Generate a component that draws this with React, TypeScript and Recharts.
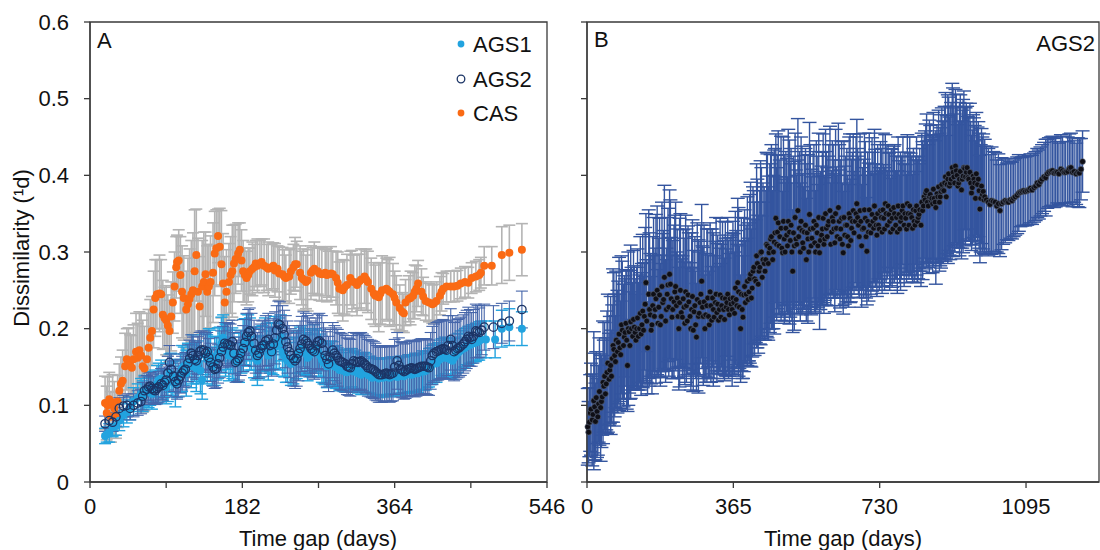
import React from 'react';
import { ScatterChart, Scatter, XAxis, YAxis, ErrorBar, ReferenceArea } from 'recharts';

type Pt = [number, number, number]; // [day, dissimilarity, error]

const panelAXTicks = [0, 91, 182, 273, 364, 455, 546];
const panelAXLabels = [0, 182, 364, 546];
const panelBXTicks = [0, 365, 730, 1095];
const yTicks = [0, 0.1, 0.2, 0.3, 0.4, 0.5, 0.6];
const seriesNames = ['AGS1', 'AGS2', 'CAS'];

const casData: Pt[] = [
  [18,0.103,0.035],[20,0.09,0.035],[21,0.1,0.037],[23,0.108,0.035],[25,0.085,0.033],[27,0.104,0.036],[29,0.096,0.035],[31,0.087,0.03],[33,0.105,0.034],[35,0.119,0.035],[37,0.128,0.035],[39,0.132,0.04],[42,0.151,0.043],[44,0.16,0.04],[46,0.156,0.045],[48,0.152,0.04],[50,0.149,0.042],[52,0.16,0.045],[55,0.17,0.05],[57,0.162,0.045],[59,0.172,0.05],[61,0.165,0.055],[63,0.151,0.06],[65,0.148,0.055],[68,0.16,0.06],[70,0.175,0.05],[72,0.188,0.05],[74,0.197,0.045],[76,0.225,0.05],[78,0.24,0.05],[80,0.245,0.045],[83,0.246,0.05],[85,0.245,0.045],[87,0.218,0.045],[89,0.214,0.04],[91,0.211,0.045],[93,0.204,0.04],[95,0.197,0.04],[97,0.216,0.045],[99,0.234,0.04],[101,0.255,0.045],[103,0.28,0.04],[104,0.287,0.035],[106,0.289,0.04],[108,0.27,0.05],[110,0.248,0.06],[112,0.24,0.055],[115,0.225,0.05],[117,0.232,0.06],[119,0.239,0.065],[121,0.245,0.07],[123,0.25,0.075],[125,0.275,0.08],[127,0.296,0.06],[129,0.248,0.07],[131,0.229,0.065],[134,0.255,0.06],[136,0.261,0.065],[138,0.271,0.055],[140,0.248,0.06],[142,0.255,0.055],[144,0.261,0.06],[147,0.273,0.065],[149,0.298,0.055],[151,0.305,0.05],[153,0.321,0.035],[155,0.307,0.05],[157,0.284,0.07],[159,0.259,0.065],[161,0.234,0.06],[163,0.248,0.055],[166,0.261,0.05],[168,0.27,0.05],[170,0.275,0.06],[172,0.285,0.05],[174,0.291,0.045],[177,0.298,0.04],[179,0.303,0.035],[181,0.289,0.04],
  [183,0.275,0.04],[185,0.27,0.035],[187,0.266,0.035],[189,0.27,0.035],[191,0.275,0.03],[194,0.278,0.035],[196,0.28,0.03],[198,0.285,0.03],[200,0.282,0.035],[203,0.285,0.03],[205,0.287,0.03],[208,0.282,0.035],[211,0.28,0.03],[213,0.278,0.035],[217,0.28,0.03],[219,0.282,0.03],[221,0.276,0.035],[224,0.278,0.03],[226,0.272,0.035],[230,0.271,0.035],[232,0.268,0.035],[234,0.266,0.03],[238,0.268,0.035],[240,0.275,0.03],[243,0.28,0.03],[245,0.284,0.035],[247,0.284,0.03],[251,0.273,0.035],[253,0.266,0.035],[255,0.264,0.04],[258,0.261,0.035],[260,0.263,0.04],[264,0.273,0.035],[266,0.276,0.03],[268,0.278,0.035],[272,0.275,0.03],[274,0.272,0.035],[277,0.271,0.035],[281,0.273,0.03],[283,0.27,0.035],[285,0.271,0.03],[288,0.272,0.035],[290,0.271,0.03],[294,0.266,0.035],[296,0.26,0.04],[298,0.252,0.035],[302,0.25,0.04],[304,0.254,0.035],[307,0.257,0.04],[311,0.266,0.035],[313,0.262,0.04],[315,0.261,0.035],[319,0.257,0.04],[322,0.262,0.035],[324,0.264,0.04],[328,0.268,0.035],[330,0.264,0.04],[332,0.261,0.04],[336,0.252,0.04],[339,0.246,0.04],[341,0.243,0.04],[345,0.241,0.045],[347,0.246,0.04],[349,0.25,0.045],[354,0.252,0.04],[356,0.25,0.04],[358,0.248,0.045],[362,0.245,0.04],[364,0.24,0.035],[366,0.234,0.035],[370,0.227,0.03],[373,0.222,0.025],[375,0.22,0.025],[377,0.234,0.03],[381,0.239,0.03],[383,0.24,0.035],[386,0.243,0.03],[388,0.248,0.035],[390,0.252,0.03],[392,0.259,0.03],[396,0.248,0.03],[398,0.242,0.025],[401,0.236,0.025],[405,0.234,0.025],[409,0.232,0.025],[411,0.233,0.025],[414,0.236,0.025],[418,0.243,0.025],[420,0.248,0.025],[422,0.252,0.02],[426,0.255,0.02],[431,0.255,0.02],[435,0.255,0.02],[439,0.256,0.02],[443,0.259,0.02],[448,0.261,0.02],[452,0.26,0.02],[456,0.266,0.02],[461,0.268,0.02],[465,0.27,0.02],[467,0.273,0.02],[471,0.282,0.025],[480,0.282,0.025],[492,0.296,0.037],[501,0.299,0.036],[516,0.303,0.034]
];

const ags1Data: Pt[] = [
  [18,0.06,0.01],[20,0.062,0.01],[23,0.064,0.012],[27,0.071,0.012],[31,0.073,0.012],[35,0.08,0.013],[40,0.087,0.015],[44,0.092,0.015],[48,0.096,0.015],[52,0.105,0.018],[57,0.11,0.018],[61,0.115,0.02],[65,0.119,0.02],[70,0.117,0.02],[74,0.115,0.02],[78,0.124,0.022],[82,0.133,0.022],[87,0.128,0.02],[91,0.124,0.022],[95,0.142,0.025],[99,0.135,0.022],[104,0.135,0.025],[108,0.142,0.025],[112,0.151,0.025],[117,0.156,0.025],[121,0.151,0.028],[125,0.156,0.025],[129,0.156,0.028],[134,0.133,0.025],[138,0.165,0.028],[142,0.17,0.03],[146,0.151,0.025],[151,0.161,0.028],[155,0.172,0.03],[159,0.188,0.03],[164,0.177,0.03],[168,0.17,0.028],[172,0.161,0.028],[176,0.156,0.025],[181,0.17,0.028],[185,0.183,0.03],[189,0.188,0.03],[193,0.174,0.028],[198,0.161,0.028],[202,0.163,0.028],[206,0.174,0.03],[211,0.177,0.03],[215,0.172,0.03],[219,0.17,0.03],[223,0.177,0.03],[228,0.188,0.03],[232,0.165,0.028],[236,0.158,0.028],[240,0.154,0.028],[245,0.161,0.028],[249,0.17,0.028],[253,0.174,0.03],[258,0.167,0.028],[262,0.165,0.028],[266,0.17,0.028],[270,0.172,0.028],[275,0.165,0.028],[279,0.156,0.028],[283,0.151,0.028],[288,0.158,0.026],[292,0.151,0.026],[296,0.149,0.026],[300,0.147,0.026],[305,0.144,0.025],[309,0.147,0.025],[313,0.149,0.025],[317,0.147,0.025],[322,0.144,0.025],[326,0.142,0.025],[330,0.142,0.025],[335,0.14,0.024],[339,0.138,0.024],[343,0.138,0.024],[347,0.137,0.024],[352,0.138,0.024],[356,0.138,0.024],[360,0.139,0.024],[364,0.139,0.024],[369,0.138,0.024],[373,0.14,0.024],[377,0.14,0.024],[382,0.142,0.024],[386,0.141,0.024],[390,0.142,0.024],[394,0.144,0.024],[399,0.144,0.024],[403,0.147,0.024],[407,0.151,0.024],[411,0.156,0.024],[416,0.158,0.024],[420,0.163,0.024],[424,0.165,0.024],[428,0.161,0.024],[433,0.158,0.024],[437,0.165,0.024],[441,0.17,0.024],[446,0.174,0.024],[450,0.177,0.024],[454,0.179,0.024],[458,0.181,0.024],[463,0.183,0.024],[467,0.186,0.024],[473,0.186,0.024],[484,0.186,0.024],[492,0.2,0.024],[501,0.202,0.024],[516,0.2,0.022]
];

const ags1ExtraData: Pt[] = [
  [63,0.112,0.02],[72,0.122,0.022],[80,0.128,0.024],[85,0.135,0.024],[93,0.13,0.025],[97,0.14,0.028],[102,0.128,0.03],[110,0.148,0.03],[115,0.142,0.03],[123,0.16,0.032],[127,0.148,0.03],[132,0.145,0.03],[140,0.16,0.032],[144,0.165,0.033],[149,0.158,0.032],[153,0.168,0.033],[157,0.18,0.035],[162,0.172,0.034],[166,0.165,0.033],[170,0.168,0.033],[178,0.162,0.032],[183,0.178,0.034],[187,0.185,0.034],[191,0.18,0.034],[196,0.168,0.032],[200,0.158,0.032],[204,0.17,0.033],[209,0.18,0.034],[213,0.165,0.032],[217,0.175,0.033],[221,0.182,0.034],[226,0.18,0.034],[230,0.17,0.032],[234,0.162,0.032],[243,0.158,0.03],[247,0.165,0.03],[251,0.172,0.03],[256,0.17,0.03],[260,0.162,0.03],[264,0.168,0.03],[268,0.175,0.03],[273,0.168,0.03],[277,0.16,0.03],[281,0.155,0.028],[286,0.153,0.028],[290,0.155,0.028],[294,0.15,0.028],[298,0.146,0.027],[303,0.145,0.027],[307,0.143,0.026],[311,0.148,0.026],[315,0.144,0.026],[320,0.142,0.026],[324,0.14,0.026],[328,0.143,0.026],[333,0.139,0.025],[337,0.136,0.025],[341,0.137,0.025],[345,0.135,0.025],[350,0.136,0.025],[354,0.137,0.025],[358,0.136,0.025],[362,0.138,0.025],[367,0.137,0.025],[371,0.139,0.025],[375,0.138,0.025],[380,0.141,0.025],[384,0.14,0.025],[388,0.143,0.025],[392,0.142,0.025],[397,0.146,0.025],[401,0.145,0.025],[405,0.149,0.025],[409,0.153,0.025],[414,0.155,0.025],[418,0.16,0.025],[422,0.162,0.025],[426,0.163,0.025],[431,0.16,0.025],[435,0.162,0.025],[439,0.168,0.025],[443,0.172,0.025],[448,0.175,0.025],[452,0.178,0.025],[456,0.18,0.025],[461,0.182,0.025],[465,0.184,0.025]
];

const ags2Data: Pt[] = [
  [18,0.076,0.01],[23,0.08,0.01],[27,0.078,0.012],[31,0.085,0.012],[35,0.096,0.014],[40,0.099,0.014],[44,0.1,0.015],[48,0.096,0.015],[52,0.1,0.015],[57,0.103,0.016],[61,0.105,0.016],[65,0.119,0.018],[70,0.124,0.018],[74,0.122,0.018],[78,0.119,0.018],[82,0.124,0.02],[87,0.126,0.02],[91,0.133,0.02],[95,0.156,0.022],[97,0.147,0.02],[102,0.131,0.02],[106,0.133,0.022],[110,0.142,0.022],[114,0.147,0.022],[119,0.161,0.024],[123,0.165,0.024],[127,0.158,0.024],[131,0.17,0.025],[136,0.172,0.025],[140,0.17,0.025],[144,0.156,0.025],[149,0.147,0.025],[153,0.154,0.025],[157,0.17,0.027],[161,0.181,0.027],[166,0.179,0.028],[170,0.183,0.028],[174,0.156,0.026],[178,0.161,0.028],[183,0.174,0.03],[187,0.19,0.03],[191,0.197,0.03],[196,0.181,0.03],[200,0.165,0.03],[204,0.174,0.032],[208,0.179,0.032],[213,0.186,0.034],[217,0.17,0.032],[221,0.188,0.034],[225,0.206,0.03],[230,0.2,0.03],[234,0.183,0.034],[238,0.17,0.034],[243,0.161,0.036],[247,0.161,0.036],[251,0.174,0.036],[255,0.186,0.036],[260,0.181,0.036],[264,0.174,0.036],[268,0.17,0.036],[272,0.183,0.036],[277,0.181,0.036],[281,0.165,0.036],[285,0.154,0.036],[290,0.172,0.036],[294,0.165,0.036],[298,0.158,0.037],[302,0.156,0.037],[307,0.151,0.037],[311,0.149,0.037],[315,0.158,0.037],[320,0.156,0.037],[324,0.158,0.037],[328,0.154,0.037],[332,0.149,0.037],[337,0.147,0.037],[341,0.144,0.037],[345,0.14,0.036],[349,0.14,0.036],[354,0.142,0.036],[358,0.14,0.036],[362,0.142,0.036],[367,0.158,0.037],[371,0.147,0.036],[375,0.144,0.036],[379,0.147,0.036],[384,0.149,0.036],[388,0.147,0.036],[392,0.149,0.036],[396,0.151,0.036],[401,0.151,0.036],[405,0.149,0.036],[409,0.165,0.038],[414,0.17,0.038],[418,0.172,0.038],[422,0.174,0.038],[426,0.172,0.038],[431,0.186,0.04],[435,0.17,0.038],[439,0.174,0.038],[443,0.177,0.038],[448,0.183,0.038],[452,0.19,0.038],[456,0.186,0.035],[461,0.197,0.035],[465,0.195,0.032],[471,0.202,0.03],[482,0.202,0.028],[492,0.207,0.026],[501,0.21,0.026],[516,0.225,0.024]
];

const ags2ExtraData: Pt[] = [
  [63,0.112,0.018],[68,0.121,0.018],[72,0.125,0.018],[76,0.12,0.018],[80,0.122,0.02],[85,0.128,0.02],[89,0.13,0.02],[93,0.142,0.022],[100,0.138,0.02],[104,0.128,0.02],[108,0.138,0.022],[112,0.145,0.022],[117,0.155,0.024],[121,0.168,0.024],[125,0.16,0.024],[129,0.165,0.025],[133,0.172,0.025],[138,0.168,0.025],[142,0.162,0.025],[147,0.15,0.025],[151,0.148,0.025],[155,0.162,0.026],[159,0.176,0.027],[164,0.18,0.028],[168,0.178,0.028],[172,0.168,0.027],[176,0.158,0.027],[180,0.168,0.029],[185,0.182,0.03],[189,0.195,0.03],[193,0.19,0.03],[198,0.172,0.03],[202,0.168,0.031],[206,0.178,0.032],[210,0.184,0.033],[215,0.178,0.033],[219,0.18,0.033],[223,0.198,0.032],[227,0.205,0.03],[232,0.192,0.032],[236,0.176,0.034],[240,0.165,0.035],[245,0.158,0.036],[249,0.168,0.036],[253,0.18,0.036],[258,0.184,0.036],[262,0.178,0.036],[266,0.172,0.036],[270,0.178,0.036],[274,0.184,0.036],[279,0.172,0.036],[283,0.16,0.036],[287,0.163,0.036],[292,0.168,0.036],[296,0.162,0.037],[300,0.157,0.037],[305,0.154,0.037],[309,0.15,0.037],[313,0.154,0.037],[318,0.157,0.037],[322,0.157,0.037],[326,0.156,0.037],[330,0.152,0.037],[335,0.148,0.037],[339,0.146,0.037],[343,0.142,0.036],[347,0.14,0.036],[352,0.141,0.036],[356,0.141,0.036],[360,0.141,0.036],[364,0.15,0.036],[369,0.152,0.036],[373,0.146,0.036],[377,0.145,0.036],[382,0.148,0.036],[386,0.148,0.036],[390,0.148,0.036],[394,0.15,0.036],[399,0.151,0.036],[403,0.15,0.036],[407,0.158,0.037],[411,0.168,0.038],[416,0.171,0.038],[420,0.173,0.038],[424,0.173,0.038],[428,0.178,0.039],[433,0.178,0.039],[437,0.172,0.038],[441,0.175,0.038],[446,0.18,0.038],[450,0.186,0.038],[454,0.188,0.037],[458,0.19,0.035],[463,0.196,0.034],[468,0.198,0.032]
];

const ags2LongData: Pt[] = [
  [4,0.065,0.04],[8,0.09,0.05],[13,0.081,0.06],[17,0.106,0.09],[21,0.079,0.05],[25,0.092,0.06],[29,0.102,0.05],[34,0.097,0.07],[38,0.111,0.05],[42,0.125,0.06],[46,0.115,0.05],[50,0.143,0.08],[55,0.134,0.06],[59,0.152,0.09],[63,0.161,0.07],[67,0.173,0.1],[71,0.157,0.06],[76,0.17,0.08],[80,0.193,0.1],[84,0.166,0.07],[88,0.198,0.09],[93,0.189,0.08],[97,0.207,0.07],[101,0.152,0.06],[105,0.196,0.08],[109,0.209,0.1],[114,0.19,0.07],[118,0.202,0.08],[122,0.185,0.06],[126,0.214,0.09],[131,0.2,0.07],[135,0.193,0.08],[139,0.223,0.1],[143,0.216,0.07],[147,0.26,0.09],[151,0.175,0.06],[156,0.225,0.1],[160,0.198,0.07],[164,0.23,0.09],[168,0.216,0.08],[172,0.239,0.11],[177,0.207,0.07],[181,0.244,0.1],[185,0.216,0.08],[189,0.234,0.09],[193,0.267,0.12],[198,0.225,0.08],[202,0.257,0.1],[206,0.271,0.11],[210,0.239,0.08],[214,0.225,0.09],[219,0.248,0.1],[223,0.23,0.07],[227,0.216,0.08],[231,0.234,0.11],[235,0.221,0.07],[240,0.239,0.09],[244,0.207,0.08],[248,0.23,0.1],[252,0.244,0.09],[257,0.216,0.07],[261,0.225,0.1],[265,0.198,0.08],[269,0.23,0.09],[273,0.189,0.07],[278,0.216,0.1],[282,0.234,0.08],[286,0.262,0.1],[290,0.216,0.09],[294,0.2,0.07],[299,0.23,0.1],[303,0.216,0.08],[307,0.248,0.09],[311,0.211,0.07],[315,0.225,0.1],[320,0.234,0.08],[324,0.221,0.09],[328,0.211,0.07],[332,0.244,0.1],[336,0.23,0.08],[341,0.225,0.09],[345,0.239,0.1],[349,0.234,0.07],[353,0.225,0.09],[357,0.239,0.08],[362,0.225,0.1],[366,0.234,0.09],[370,0.253,0.1],[374,0.23,0.08],[378,0.248,0.11],[383,0.2,0.07],[387,0.225,0.09],[391,0.244,0.1],[395,0.234,0.08],
  [400,0.262,0.11],[404,0.248,0.09],[408,0.271,0.12],[412,0.253,0.09],[416,0.28,0.1],[421,0.262,0.08],[425,0.285,0.11],[429,0.275,0.09],[433,0.299,0.12],[437,0.267,0.08],[442,0.285,0.1],[446,0.29,0.09],[450,0.308,0.12],[454,0.299,0.1],[458,0.317,0.11],[463,0.29,0.09],[467,0.313,0.12],[471,0.344,0.11],[475,0.326,0.1],[479,0.308,0.09],[484,0.331,0.12],[488,0.299,0.08],[492,0.317,0.11],[496,0.331,0.1],[500,0.308,0.09],[505,0.326,0.12],[509,0.335,0.1],[513,0.275,0.08],[517,0.308,0.11],[521,0.317,0.09],[526,0.354,0.12],[530,0.331,0.1],[534,0.34,0.11],[538,0.312,0.09],[542,0.326,0.1],[547,0.29,0.08],[551,0.317,0.11],[555,0.349,0.12],[559,0.308,0.09],[564,0.331,0.1],[568,0.312,0.09],[572,0.335,0.11],[576,0.308,0.08],[580,0.299,0.1],[585,0.322,0.09],[589,0.344,0.11],[593,0.317,0.08],[597,0.331,0.1],[601,0.335,0.09],[606,0.354,0.11],[610,0.326,0.08],[614,0.34,0.1],[618,0.312,0.09],[622,0.331,0.08],[627,0.358,0.11],[631,0.317,0.09],[635,0.344,0.1],[639,0.299,0.08],[643,0.322,0.09],[648,0.335,0.1],[652,0.308,0.08],[656,0.344,0.11],[660,0.331,0.09],[664,0.354,0.1],[669,0.34,0.08],[673,0.363,0.11],[677,0.335,0.09],[681,0.354,0.1],[685,0.308,0.08],[690,0.331,0.09],[694,0.344,0.1],[698,0.301,0.07],[702,0.326,0.09],[706,0.335,0.08],[711,0.349,0.1],[715,0.331,0.07],[719,0.344,0.09],[723,0.322,0.08],[727,0.335,0.07],[732,0.354,0.09],[736,0.326,0.08],[740,0.344,0.07],[744,0.363,0.09],[749,0.335,0.07],[753,0.349,0.08],[757,0.326,0.07],[761,0.344,0.09],[765,0.358,0.08],[770,0.335,0.07],[774,0.326,0.08],[778,0.349,0.07],[782,0.34,0.09],[786,0.354,0.07],[791,0.335,0.08],[795,0.344,0.07],[799,0.363,0.09],
  [803,0.335,0.07],[807,0.349,0.08],[812,0.331,0.07],[816,0.34,0.08],[820,0.354,0.07],[824,0.34,0.08],[828,0.349,0.07],[833,0.335,0.08],[837,0.354,0.09],[841,0.372,0.08],[845,0.377,0.09],[849,0.365,0.08],[854,0.372,0.1],[858,0.367,0.08],[862,0.363,0.09],[866,0.37,0.08],[870,0.358,0.1],[875,0.372,0.08],[879,0.365,0.09],[883,0.379,0.1],[887,0.381,0.09],[892,0.39,0.1],[896,0.372,0.08],[900,0.395,0.11],[904,0.386,0.09],[908,0.395,0.1],[913,0.404,0.11],[917,0.39,0.09],[921,0.406,0.1],[925,0.386,0.08],[929,0.395,0.1],[934,0.381,0.09],[938,0.399,0.1],[942,0.409,0.08],[946,0.404,0.09],[950,0.397,0.08],[955,0.404,0.09],[959,0.377,0.075],[963,0.399,0.08],[967,0.39,0.075],[971,0.402,0.08],[976,0.395,0.075],[980,0.356,0.07],[984,0.386,0.075],[988,0.379,0.075],[992,0.372,0.075],[1001,0.365,0.07],[1009,0.367,0.07],[1018,0.365,0.065],[1026,0.363,0.065],[1030,0.354,0.06],[1034,0.363,0.06],[1043,0.367,0.055],[1051,0.365,0.05],[1060,0.367,0.05],[1068,0.372,0.05],[1077,0.377,0.05],[1085,0.379,0.045],[1093,0.379,0.045],[1102,0.381,0.045],[1110,0.381,0.045],[1119,0.386,0.045],[1127,0.388,0.045],[1135,0.395,0.045],[1144,0.397,0.05],[1152,0.404,0.045],[1161,0.406,0.045],[1169,0.404,0.045],[1177,0.402,0.04],[1186,0.406,0.045],[1194,0.404,0.04],[1203,0.409,0.045],[1211,0.404,0.045],[1220,0.402,0.04],[1228,0.403,0.045],[1236,0.418,0.04]
];

const ags2LongExtraData: Pt[] = [
  [2,0.072,0.05],[6,0.078,0.045],[10,0.095,0.06],[15,0.088,0.05],[19,0.098,0.07],[23,0.11,0.06],[27,0.085,0.05],[31,0.118,0.07],[36,0.105,0.06],[40,0.13,0.08],[44,0.138,0.07],[48,0.128,0.06],[52,0.155,0.09],[57,0.146,0.07],[61,0.138,0.06],[65,0.178,0.1],[69,0.165,0.08],[73,0.185,0.09],[78,0.182,0.08],[82,0.175,0.07],[86,0.205,0.09],[91,0.178,0.08],[95,0.195,0.07],[99,0.185,0.09],[103,0.2,0.1],[107,0.178,0.07],[111,0.2,0.08],[116,0.212,0.09],[120,0.195,0.07],[124,0.2,0.08],[128,0.19,0.07],[133,0.22,0.1],[137,0.205,0.08],[141,0.198,0.07],[145,0.232,0.1],[149,0.21,0.08],[154,0.245,0.11],[158,0.218,0.08],[162,0.205,0.09],[166,0.245,0.1],[170,0.225,0.08],[175,0.25,0.11],[179,0.228,0.09],[183,0.205,0.08],[187,0.255,0.11],[191,0.238,0.09],[196,0.21,0.08],[200,0.245,0.1],[204,0.228,0.09],[208,0.258,0.11],[212,0.215,0.08],[217,0.235,0.1],[221,0.255,0.11],[225,0.24,0.09],[229,0.2,0.08],[233,0.25,0.1],[238,0.215,0.08],[242,0.228,0.09],[246,0.248,0.1],[250,0.21,0.07],[254,0.235,0.09],[259,0.2,0.08],[263,0.242,0.1],[267,0.222,0.08],[271,0.205,0.07],[275,0.238,0.1],[280,0.22,0.08],[284,0.245,0.09],[288,0.228,0.08],[292,0.235,0.1],[296,0.218,0.08],[301,0.24,0.09],[305,0.205,0.07],[309,0.23,0.1],[313,0.24,0.09],[317,0.215,0.08],[322,0.245,0.1],[326,0.232,0.09],[330,0.225,0.08],[334,0.215,0.07],[338,0.24,0.1],[343,0.212,0.08],[347,0.228,0.09],[351,0.245,0.1],[355,0.218,0.08],[359,0.232,0.09],[364,0.24,0.1],[368,0.22,0.08],[372,0.238,0.09],[376,0.26,0.11],[380,0.228,0.08],[385,0.245,0.1],[389,0.215,0.08],[393,0.255,0.1],[397,0.245,0.09],
  [402,0.238,0.08],[406,0.265,0.11],[410,0.24,0.09],[414,0.275,0.11],[418,0.265,0.1],[423,0.295,0.12],[427,0.258,0.09],[431,0.28,0.1],[435,0.3,0.11],[439,0.29,0.1],[444,0.275,0.09],[448,0.31,0.12],[452,0.285,0.1],[456,0.305,0.11],[460,0.32,0.12],[465,0.3,0.1],[469,0.325,0.11],[473,0.31,0.1],[477,0.338,0.12],[481,0.32,0.1],[486,0.305,0.09],[490,0.34,0.11],[494,0.3,0.09],[498,0.322,0.1],[502,0.34,0.12],[507,0.315,0.1],[511,0.3,0.09],[515,0.325,0.1],[519,0.345,0.11],[523,0.31,0.09],[528,0.32,0.1],[532,0.3,0.09],[536,0.328,0.11],[540,0.305,0.08],[545,0.335,0.1],[549,0.325,0.09],[553,0.3,0.08],[557,0.33,0.11],[561,0.318,0.09],[566,0.34,0.1],[570,0.3,0.08],[574,0.325,0.1],[578,0.345,0.11],[582,0.315,0.09],[587,0.33,0.1],[591,0.31,0.09],[595,0.35,0.11],[599,0.32,0.09],[603,0.34,0.1],[608,0.31,0.08],[612,0.345,0.1],[616,0.33,0.09],[620,0.35,0.11],[624,0.32,0.08],[629,0.34,0.1],[633,0.33,0.09],[637,0.31,0.08],[641,0.345,0.1],[645,0.335,0.09],[650,0.32,0.08],[654,0.35,0.1],[658,0.315,0.08],[662,0.34,0.09],[666,0.325,0.08],[671,0.35,0.1],[675,0.345,0.09],[679,0.32,0.08],[683,0.34,0.09],[687,0.33,0.08],[692,0.355,0.1],[696,0.32,0.08],[700,0.34,0.09],[704,0.355,0.1],[708,0.325,0.08],[713,0.34,0.09],[717,0.36,0.1],[721,0.335,0.08],[725,0.35,0.09],[729,0.33,0.08],[734,0.345,0.09],[738,0.355,0.1],[742,0.33,0.08],[746,0.35,0.09],[751,0.36,0.08],[755,0.34,0.09],[759,0.355,0.08],[763,0.33,0.07],[767,0.35,0.09],[772,0.345,0.08],[776,0.36,0.09],[780,0.33,0.07],[784,0.345,0.08],[788,0.36,0.09],[793,0.35,0.08],[797,0.33,0.07],
  [801,0.35,0.08],[805,0.36,0.09],[810,0.345,0.08],[814,0.355,0.08],[818,0.335,0.07],[822,0.36,0.09],[826,0.345,0.08],[830,0.355,0.08],[835,0.365,0.09],[839,0.36,0.08],[843,0.368,0.09],[847,0.38,0.1],[851,0.36,0.08],[856,0.375,0.09],[860,0.37,0.08],[864,0.382,0.1],[868,0.365,0.08],[873,0.376,0.09],[877,0.385,0.1],[881,0.372,0.09],[885,0.388,0.1],[890,0.38,0.09],[894,0.398,0.11],[898,0.388,0.09],[902,0.402,0.1],[906,0.39,0.1],[911,0.41,0.11],[915,0.398,0.09],[919,0.412,0.1],[923,0.4,0.09],[927,0.39,0.08],[931,0.405,0.1],[936,0.395,0.09],[940,0.41,0.1],[944,0.398,0.09],[948,0.41,0.08],[952,0.395,0.08],[957,0.39,0.08],[961,0.384,0.075],[965,0.395,0.08],[969,0.37,0.075],[974,0.388,0.075],[978,0.38,0.075],[982,0.37,0.07],[986,0.375,0.075],[990,0.368,0.07],[996,0.368,0.07],[1005,0.362,0.065],[1013,0.366,0.065],[1022,0.36,0.06],[1038,0.365,0.055],[1047,0.366,0.05],[1056,0.368,0.05],[1064,0.37,0.05],[1073,0.374,0.05],[1081,0.378,0.045],[1089,0.38,0.045],[1098,0.38,0.045],[1106,0.383,0.045],[1115,0.384,0.045],[1123,0.39,0.045],[1131,0.392,0.045],[1140,0.398,0.045],[1148,0.402,0.045],[1157,0.405,0.045],[1165,0.403,0.045],[1173,0.404,0.04],[1182,0.408,0.045],[1190,0.404,0.04],[1199,0.405,0.045],[1207,0.41,0.045],[1215,0.405,0.04],[1224,0.404,0.045],[1232,0.408,0.04]
];

const toRows = (arr: Pt[]) => [...arr].sort((a, b) => a[0] - b[0]).map(([x, y, e]) => ({ x, y, e }));
const cas = toRows(casData);
const ags1 = toRows([...ags1Data, ...ags1ExtraData]);
const ags2 = toRows([...ags2Data, ...ags2ExtraData]);
const ags2Long = toRows([...ags2LongData, ...ags2LongExtraData]);

const FONT = '"Liberation Sans", Arial, Helvetica, sans-serif';
const AXIS = '#3a3a3a';
const ORANGE = '#FA6A14';
const LIGHTBLUE = '#22A3DF';
const NAVY = '#1C3566';
const NAVYBAR = '#4666AA';
const GREYBAR = '#B4B4B4';
const LONGBAR = '#34559F';

const dot = (fill: string, r: number, stroke = 'none', sw = 0) => (props: any) => {
  const { cx, cy } = props;
  if (cx == null || cy == null) return <g />;
  return <circle cx={cx} cy={cy} r={r} fill={fill} stroke={stroke} strokeWidth={sw} />;
};

const tickStyle = { fontSize: 22, fill: '#111', fontFamily: FONT };
const yFmt = (v: number) => (v === 0 ? '0' : v.toFixed(1));

export default function App() {
  return (
    <div style={{ position: 'absolute', left: 0, top: 0, width: 1100, height: 550, background: '#fff', fontFamily: FONT }}>
      <div style={{ position: 'absolute', left: 0, top: 0 }}>
        <ScatterChart width={600} height={550} margin={{ top: 22, right: 53, bottom: 28, left: 30 }}>
          <XAxis
            type="number" dataKey="x" domain={[0, 546]} ticks={panelAXTicks} interval={0}
            tickFormatter={(v: number) => (panelAXLabels.includes(v) ? String(v) : '')}
            height={40} tickSize={6} tickMargin={10} tick={tickStyle}
            axisLine={{ stroke: AXIS, strokeWidth: 1.3 }} tickLine={{ stroke: AXIS, strokeWidth: 1.3 }}
          />
          <YAxis
            type="number" dataKey="y" domain={[0, 0.6]} ticks={yTicks} interval={0} tickFormatter={yFmt}
            width={60} tickSize={6} tickMargin={15} tick={tickStyle}
            axisLine={{ stroke: AXIS, strokeWidth: 1.3 }} tickLine={{ stroke: AXIS, strokeWidth: 1.3 }}
          />
          <ReferenceArea x1={0} x2={546} y1={0} y2={0.6} fill="none" fillOpacity={0} stroke={AXIS} strokeWidth={1.3} />
          <Scatter name="CAS" data={cas} shape={dot(ORANGE, 4)} isAnimationActive={false}>
            <ErrorBar dataKey="e" direction="y" width={6} stroke={GREYBAR} strokeWidth={1.6} />
          </Scatter>
          <Scatter name="AGS1" data={ags1} shape={dot(LIGHTBLUE, 4)} isAnimationActive={false}>
            <ErrorBar dataKey="e" direction="y" width={6} stroke={LIGHTBLUE} strokeWidth={1.4} />
          </Scatter>
          <Scatter name="AGS2" data={ags2} shape={dot('none', 4.2, NAVY, 1.3)} isAnimationActive={false}>
            <ErrorBar dataKey="e" direction="y" width={6} stroke={NAVYBAR} strokeWidth={1.1} />
          </Scatter>
        </ScatterChart>
      </div>
      <div style={{ position: 'absolute', left: 560, top: 0 }}>
        <ScatterChart width={540} height={550} margin={{ top: 22, right: 1, bottom: 28, left: 17 }}>
          <XAxis
            type="number" dataKey="x" domain={[0, 1277]} ticks={panelBXTicks} interval={0}
            height={40} tickSize={6} tickMargin={10} tick={tickStyle}
            axisLine={{ stroke: AXIS, strokeWidth: 1.3 }} tickLine={{ stroke: AXIS, strokeWidth: 1.3 }}
          />
          <YAxis
            type="number" dataKey="y" domain={[0, 0.6]} ticks={yTicks} interval={0} tickFormatter={() => ''}
            width={10} tickSize={6} tick={tickStyle}
            axisLine={{ stroke: AXIS, strokeWidth: 1.3 }} tickLine={{ stroke: AXIS, strokeWidth: 1.3 }}
          />
          <ReferenceArea x1={0} x2={1277} y1={0} y2={0.6} fill="none" fillOpacity={0} stroke={AXIS} strokeWidth={1.3} />
          <Scatter name="AGS2" data={ags2Long} shape={dot('#0f0f16', 2.9, '#5a6478', 0.6)} isAnimationActive={false}>
            <ErrorBar dataKey="e" direction="y" width={7} stroke={LONGBAR} strokeWidth={1.4} />
          </Scatter>
        </ScatterChart>
      </div>
      <svg width={1100} height={550} style={{ position: 'absolute', left: 0, top: 0, pointerEvents: 'none' }} fontFamily={FONT}>
        <text transform="translate(29,248) rotate(-90)" textAnchor="middle" fontSize={22} fill="#111">Dissimilarity (¹d)</text>
        <text x={318} y={546} textAnchor="middle" fontSize={22} fill="#111">Time gap (days)</text>
        <text x={843} y={546} textAnchor="middle" fontSize={22} fill="#111">Time gap (days)</text>
        <text x={97} y={48} fontSize={22} fill="#111">A</text>
        <text x={594} y={47} fontSize={22} fill="#111">B</text>
        <text x={1095} y={51} textAnchor="end" fontSize={22} fill="#111">AGS2</text>
        <circle cx={461} cy={44} r={3.4} fill={LIGHTBLUE} />
        <text x={473} y={52} fontSize={22} fill="#111">{seriesNames[0]}</text>
        <circle cx={461} cy={79} r={3.8} fill="none" stroke={NAVY} strokeWidth={1.3} />
        <text x={473} y={87} fontSize={22} fill="#111">{seriesNames[1]}</text>
        <circle cx={461} cy={113} r={3.4} fill={ORANGE} />
        <text x={473} y={121} fontSize={22} fill="#111">{seriesNames[2]}</text>
      </svg>
    </div>
  );
}
